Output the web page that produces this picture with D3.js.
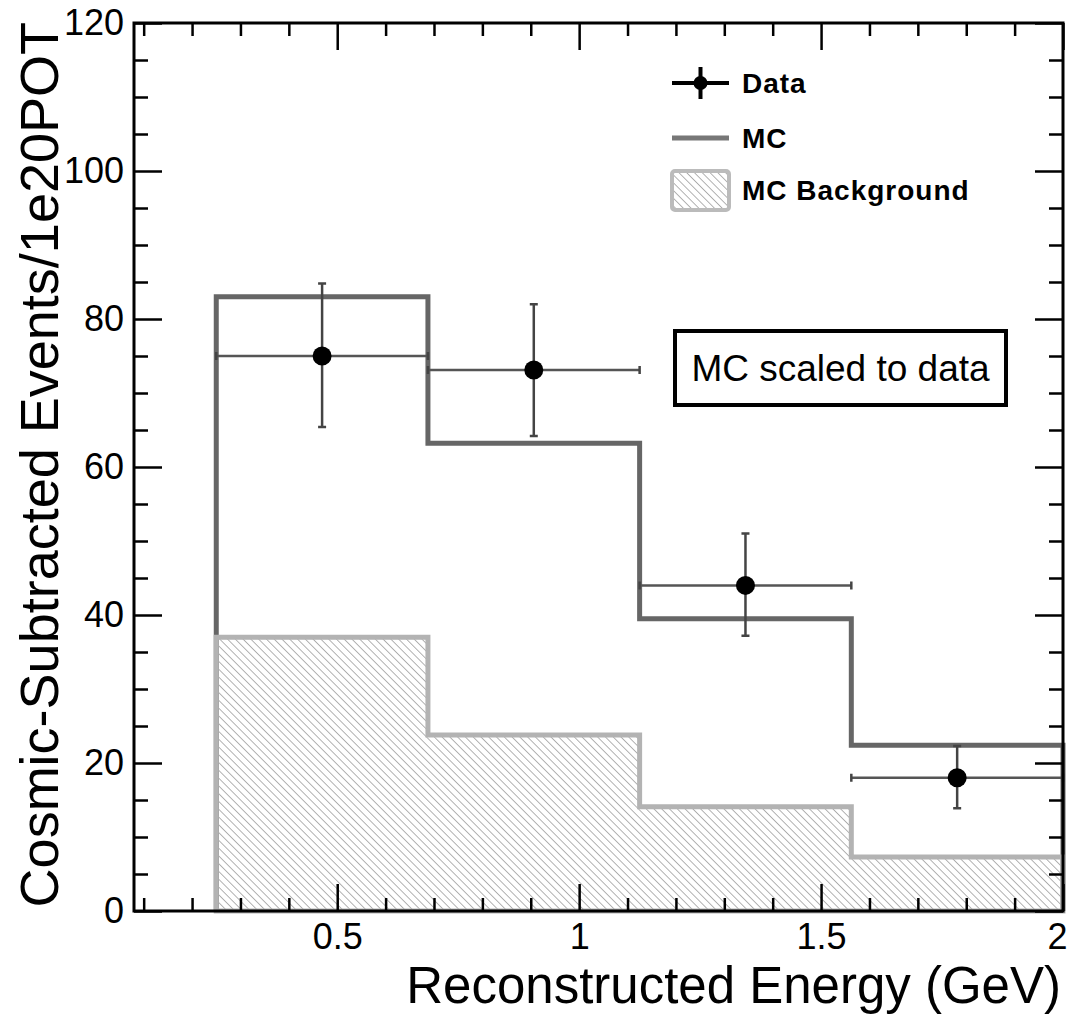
<!DOCTYPE html>
<html>
<head>
<meta charset="utf-8">
<script src="https://cdn.jsdelivr.net/npm/d3@7"></script>
<style>
  body { margin: 0; background: #fff; }
  text { font-family: "Liberation Sans", Arial, Helvetica, sans-serif; }
</style>
</head>
<body>
<div id="chart"></div>
<script>
// bin edges (GeV) and histogram contents
const binEdges = [0.25, 0.6875, 1.125, 1.5625, 2.0];
const mcValues = [83, 63.2, 39.5, 22.4];
const bgValues = [37, 23.8, 14.1, 7.3];
const dataValues = [75, 73.1, 44, 18];
const dataErrUp = [9.8, 8.9, 7.0, 4.3];
const dataErrDown = [9.6, 8.9, 6.8, 4.1];

const yTicks = [0, 20, 40, 60, 80, 100, 120];
const xTicks = [0.5, 1, 1.5, 2];
const xTickLabels = ["0.5", "1", "1.5", "2"];
const legendItems = ["Data", "MC", "MC Background"];

const W = 1069, H = 1017;
const frame = { left: 134, right: 1063, top: 23, bottom: 911 };

const svg = d3.select("#chart").append("svg")
  .attr("width", W)
  .attr("height", H);

const x = d3.scaleLinear().domain([0.08, 2]).range([frame.left, frame.right]);
const y = d3.scaleLinear().domain([0, 120]).range([frame.bottom, frame.top]);

// hatch for the background histogram
const defs = svg.append("defs");
defs.append("pattern")
  .attr("id", "hatch")
  .attr("patternUnits", "userSpaceOnUse")
  .attr("width", 5.5)
  .attr("height", 5.5)
  .attr("patternTransform", "rotate(-45)")
  .append("line")
  .attr("x1", 0).attr("y1", 0)
  .attr("x2", 0).attr("y2", 5.5)
  .style("stroke", "#999")
  .style("stroke-width", 1.5);

// step outline points for a histogram
function stepPoints(values) {
  let pts = [[binEdges[0], 0]];
  values.forEach((v, i) => {
    pts.push([binEdges[i], v]);
    pts.push([binEdges[i + 1], v]);
  });
  pts.push([binEdges[values.length], 0]);
  return pts;
}

const line = d3.line().x(d => x(d[0])).y(d => y(d[1]));

// MC
svg.append("path")
  .attr("d", line(stepPoints(mcValues)))
  .style("fill", "none")
  .style("stroke", "#666")
  .style("stroke-width", 5);

// MC background, hatched
svg.append("path")
  .attr("d", line(stepPoints(bgValues)) + "Z")
  .style("fill", "url(#hatch)")
  .style("stroke", "#b3b3b3")
  .style("stroke-width", 5);

// data points with errors
const centers = dataValues.map((d, i) => (binEdges[i] + binEdges[i + 1]) / 2);
const pts = svg.append("g").selectAll("g")
  .data(dataValues)
  .enter().append("g");

pts.append("line")
  .attr("x1", (d, i) => x(binEdges[i]))
  .attr("x2", (d, i) => x(binEdges[i + 1]))
  .attr("y1", d => y(d))
  .attr("y2", d => y(d))
  .style("stroke", "#555")
  .style("stroke-width", 2.5);

pts.append("line")
  .attr("x1", (d, i) => x(centers[i]))
  .attr("x2", (d, i) => x(centers[i]))
  .attr("y1", (d, i) => y(d + dataErrUp[i]))
  .attr("y2", (d, i) => y(d - dataErrDown[i]))
  .style("stroke", "#444")
  .style("stroke-width", 2.5);

// caps
pts.append("path")
  .attr("d", (d, i) => {
    let cx = x(centers[i]), t = y(d + dataErrUp[i]), b = y(d - dataErrDown[i]);
    let l = x(binEdges[i]), r = x(binEdges[i + 1]), cy = y(d);
    return `M${cx - 4},${t}H${cx + 4}M${cx - 4},${b}H${cx + 4}` +
      `M${l},${cy - 4}V${cy + 4}M${r},${cy - 4}V${cy + 4}`;
  })
  .style("stroke", "#444")
  .style("stroke-width", 2.5)
  .style("fill", "none");

pts.append("circle")
  .attr("cx", (d, i) => x(centers[i]))
  .attr("cy", d => y(d))
  .attr("r", 9.5)
  .style("fill", "#000");

// axes: ticks point inwards, ROOT style
function axisStyle(g) {
  g.select(".domain").remove();
  g.selectAll(".tick line").style("stroke", "#000").style("stroke-width", 2.5);
  g.selectAll("text").style("font-size", "36px").style("fill", "#000")
    .style("font-family", '"Liberation Sans", Arial, sans-serif');
}

const yMinor = d3.range(0, 121, 5).filter(v => v % 20 !== 0);
const xMinor = d3.range(1, 20).map(v => v / 10).filter(v => Math.abs(v * 2 - Math.round(v * 2)) > 1e-6);

svg.append("g")
  .attr("transform", `translate(${frame.left},0)`)
  .call(d3.axisLeft(y).tickValues(yTicks).tickSize(-28).tickPadding(10).tickFormat(d3.format("d")))
  .call(axisStyle);
svg.append("g")
  .attr("transform", `translate(${frame.left},0)`)
  .call(d3.axisLeft(y).tickValues(yMinor).tickSize(-14).tickFormat(""))
  .call(axisStyle);
svg.append("g")
  .attr("transform", `translate(${frame.right},0)`)
  .call(d3.axisRight(y).tickValues(yTicks).tickSize(-28).tickFormat(""))
  .call(axisStyle);
svg.append("g")
  .attr("transform", `translate(${frame.right},0)`)
  .call(d3.axisRight(y).tickValues(yMinor).tickSize(-14).tickFormat(""))
  .call(axisStyle);

const xAxisG = svg.append("g")
  .attr("transform", `translate(0,${frame.bottom})`)
  .call(d3.axisBottom(x).tickValues(xTicks).tickSize(-27).tickPadding(12)
    .tickFormat((d, i) => xTickLabels[i]))
  .call(axisStyle);
// last label sits at the page edge, pull it in a little
xAxisG.selectAll(".tick text").filter(d => d === 2).attr("dx", -6);

svg.append("g")
  .attr("transform", `translate(0,${frame.bottom})`)
  .call(d3.axisBottom(x).tickValues(xMinor).tickSize(-13).tickFormat(""))
  .call(axisStyle);
svg.append("g")
  .attr("transform", `translate(0,${frame.top})`)
  .call(d3.axisTop(x).tickValues(xTicks).tickSize(-27).tickFormat(""))
  .call(axisStyle);
svg.append("g")
  .attr("transform", `translate(0,${frame.top})`)
  .call(d3.axisTop(x).tickValues(xMinor).tickSize(-13).tickFormat(""))
  .call(axisStyle);

// frame
svg.append("rect")
  .attr("x", frame.left)
  .attr("y", frame.top)
  .attr("width", frame.right - frame.left)
  .attr("height", frame.bottom - frame.top)
  .style("fill", "none")
  .style("stroke", "#000")
  .style("stroke-width", 3);

// axis titles
svg.append("text")
  .attr("x", 1061)
  .attr("y", 1003)
  .attr("text-anchor", "end")
  .style("font-size", "51px")
  .text("Reconstructed Energy (GeV)");

svg.append("text")
  .attr("transform", "translate(58,22) rotate(-90)")
  .attr("text-anchor", "end")
  .style("font-size", "54px")
  .text("Cosmic-Subtracted Events/1e20POT");

// legend
const legX = 672, legW = 57, legTx = 742;
const legY = [83, 138, 190];
const leg = svg.append("g");

leg.append("line")
  .attr("x1", legX).attr("x2", legX + legW)
  .attr("y1", legY[0]).attr("y2", legY[0])
  .style("stroke", "#000").style("stroke-width", 4);
leg.append("line")
  .attr("x1", legX + legW / 2).attr("x2", legX + legW / 2)
  .attr("y1", legY[0] - 16).attr("y2", legY[0] + 16)
  .style("stroke", "#000").style("stroke-width", 4);
leg.append("circle")
  .attr("cx", legX + legW / 2).attr("cy", legY[0]).attr("r", 7)
  .style("fill", "#000");

leg.append("line")
  .attr("x1", legX).attr("x2", legX + legW)
  .attr("y1", legY[1]).attr("y2", legY[1])
  .style("stroke", "#777").style("stroke-width", 5);

leg.append("rect")
  .attr("x", legX).attr("y", legY[2] - 19)
  .attr("width", legW).attr("height", 39)
  .attr("rx", 3)
  .style("fill", "url(#hatch)")
  .style("stroke", "#bbb").style("stroke-width", 4);

leg.selectAll(".legText")
  .data(legendItems)
  .enter().append("text")
  .attr("class", "legText")
  .attr("x", legTx)
  .attr("y", (d, i) => legY[i])
  .attr("dy", "0.35em")
  .style("font-size", "28px")
  .style("letter-spacing", "1px")
  .style("font-weight", "bold")
  .text(d => d);

// annotation box
svg.append("rect")
  .attr("x", 675).attr("y", 331)
  .attr("width", 331).attr("height", 74)
  .style("fill", "#fff")
  .style("stroke", "#000")
  .style("stroke-width", 4);
svg.append("text")
  .attr("x", 840.5)
  .attr("y", 368)
  .attr("dy", "0.35em")
  .attr("text-anchor", "middle")
  .style("font-size", "37px")
  .text("MC scaled to data");
</script>
</body>
</html>
